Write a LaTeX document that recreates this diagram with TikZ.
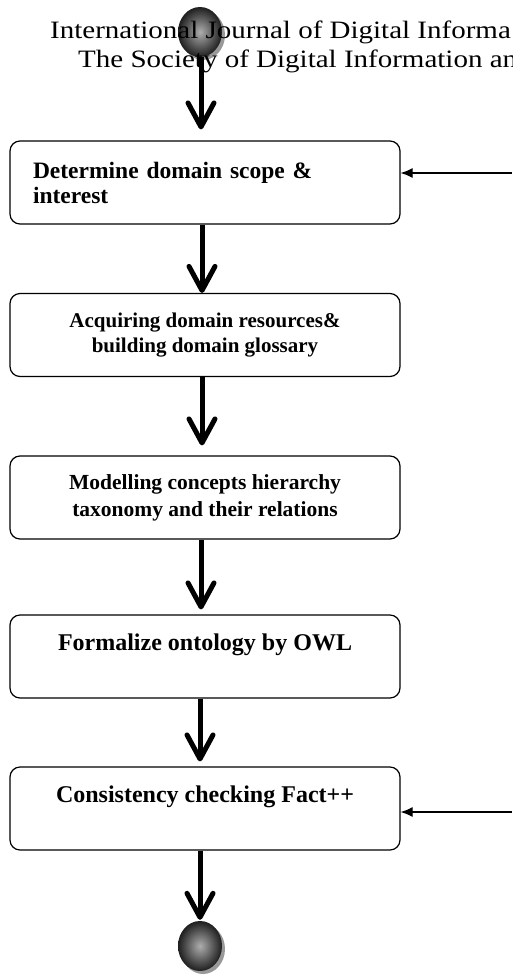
\documentclass[tikz,border=0pt]{standalone}
\usepackage{fontspec}
\setmainfont{Liberation Serif}
\usetikzlibrary{arrows.meta,shapes.geometric}
\begin{document}
\begin{tikzpicture}[x=1pt,y=-1pt,
  box/.style={draw, line width=1.2pt, rounded corners=10pt, minimum width=390pt, minimum height=83pt, inner sep=0pt, font=\bfseries, align=center},
  flow/.style={line width=5pt, -{Straight Barb[length=24pt,width=26pt,round]}},
  side/.style={line width=1.2pt, -{Latex[length=12pt,width=10pt]}},
  ballnode/.style={ellipse, minimum width=44pt, minimum height=50pt, inner sep=0pt, shading=radial, inner color=black!32, outer color=black!88},
  shadownode/.style={ellipse, minimum width=44pt, minimum height=50pt, inner sep=0pt, fill=black!40},
  header/.style={anchor=base west, inner sep=0pt}
]
\useasboundingbox (0,0) rectangle (512,978);
\clip (0,0) rectangle (512,978);

% start / end circles
\node[shadownode] (s1) at (203,35) {};
\node[ballnode] (c1) at (200,32) {};
\node[shadownode] (s2) at (203,949) {};
\node[ballnode] (c2) at (200,946) {};

% boxes
\node[box, align=left, inner xsep=23pt, text width=344pt, font=\bfseries\fontsize{23.5}{25}\selectfont] (b1) at (205,182.5)
  {Determine domain scope \&\\interest};
\node[box, font=\bfseries\fontsize{21}{25}\selectfont] (b2) at (205,335)
  {Acquiring domain resources\&\\building domain glossary};
\node[box, font=\bfseries\fontsize{21.5}{27}\selectfont] (b3) at (205,497.5)
  {Modelling concepts hierarchy\\taxonomy and their relations};
\node[box, font=\bfseries\fontsize{24}{28}\selectfont] (b4) at (205,656.5)
  {Formalize ontology by OWL\\\mbox{}};
\node[box, font=\bfseries\fontsize{24}{28}\selectfont] (b5) at (205,808.5)
  {Consistency checking Fact++\\\mbox{}};

% flow arrows
\draw[flow, shorten >=11pt] ([xshift=1pt]c1.south) -- ([xshift=-4pt]b1.north);
\draw[flow] ([xshift=-3pt]b1.south) -- ([xshift=-3pt]b2.north);
\draw[flow, shorten >=10pt] ([xshift=-3pt]b2.south) -- ([xshift=-3pt]b3.north);
\draw[flow, shorten >=5pt] ([xshift=-4pt]b3.south) -- ([xshift=-4pt]b4.north);
\draw[flow, shorten >=5pt] ([xshift=-5pt]b4.south) -- ([xshift=-5pt]b5.north);
\draw[flow, shorten >=1pt] (c2.north |- b5.south) -- (c2.north);

% feedback arrows from the right
\coordinate (r1) at (512,173);
\coordinate (r5) at (512,812);
\draw[side] (r1) -- (r1 -| b1.east);
\draw[side] (r5) -- (r5 -| b5.east);

% header text (printed over the start circle)
\node[header] (h1) at (50,38) {\scalebox{1.16}[1]{\fontsize{25}{29}\selectfont International Journal of Digital Informa}};
\node[header] (h2) at (78,67) {\scalebox{1.16}[1]{\fontsize{25}{29}\selectfont The Society of Digital Information an}};
\end{tikzpicture}
\end{document}
